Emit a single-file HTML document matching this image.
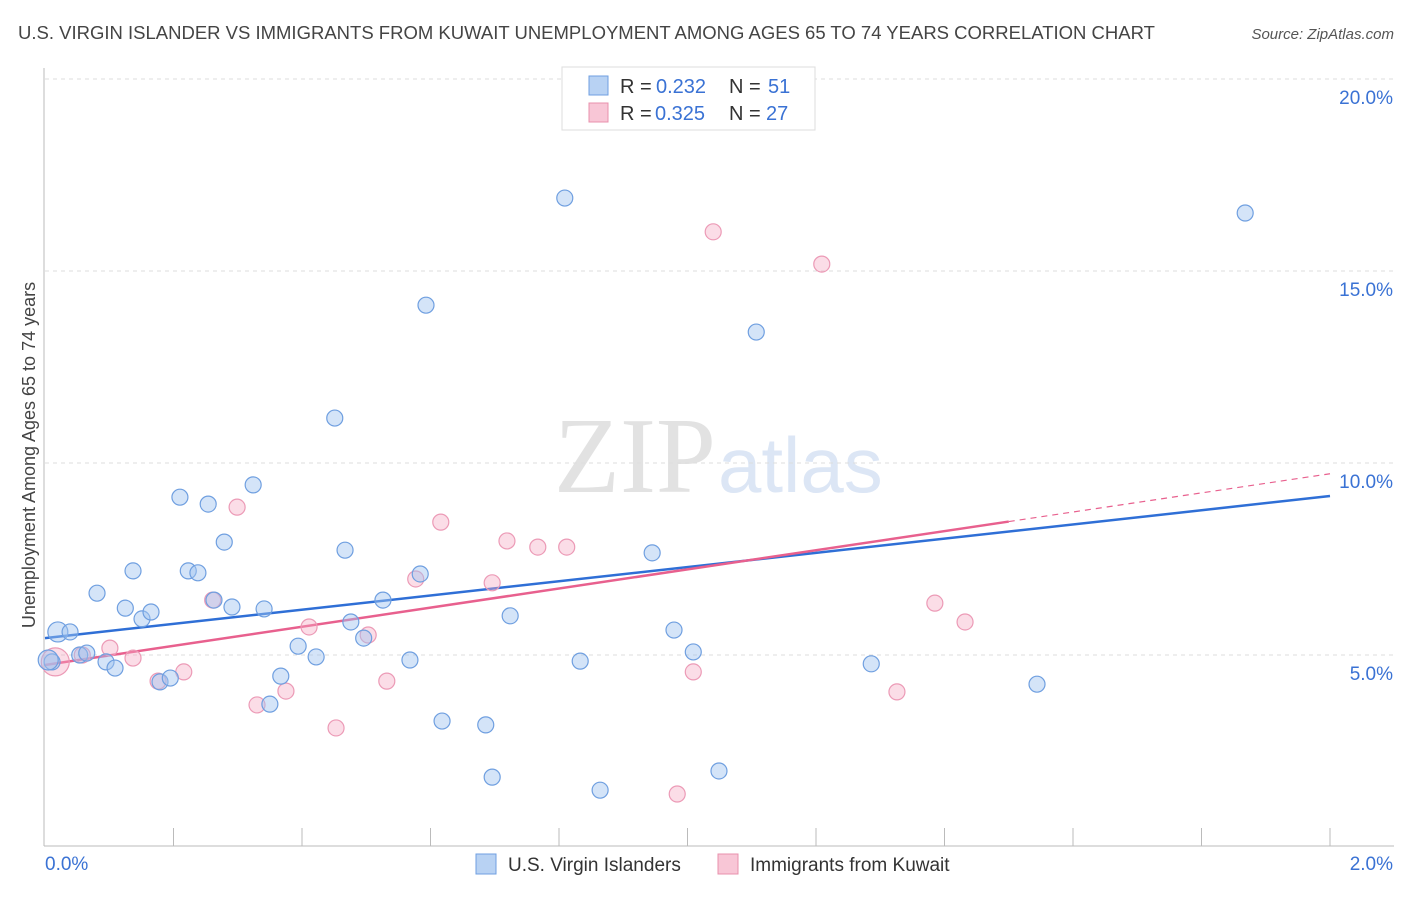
<!DOCTYPE html>
<html><head><meta charset="utf-8"><style>
body{margin:0;background:#fff;font-family:"Liberation Sans",sans-serif;}
</style></head><body>
<svg width="1406" height="892" xmlns="http://www.w3.org/2000/svg">
<text x="18" y="39" font-size="18.5" fill="#444">U.S. VIRGIN ISLANDER VS IMMIGRANTS FROM KUWAIT UNEMPLOYMENT AMONG AGES 65 TO 74 YEARS CORRELATION CHART</text>
<text x="1394" y="39" font-size="15" fill="#555" font-style="italic" text-anchor="end">Source: ZipAtlas.com</text>
<text x="716" y="492" font-size="108" fill="#e2e2e2" text-anchor="end" font-family="Liberation Serif">ZIP</text>
<text x="718" y="492" font-size="78" fill="#dce6f5">atlas</text>
<g id="grid"></g><g id="axes"></g><g id="lines"></g><g id="pts"></g>
<text x="35" y="455" font-size="18" fill="#444" transform="rotate(-90 35 455)" text-anchor="middle">Unemployment Among Ages 65 to 74 years</text>
<g>
<rect x="562" y="67" width="253" height="63" fill="#fff" stroke="#ddd"/>
<rect x="589" y="76" width="19" height="19" fill="#b8d2f3" stroke="#6f9fe0"/>
<text x="620" y="93" font-size="20" fill="#333">R =</text>
<text x="656" y="93" font-size="20" fill="#3a72d4">0.232</text>
<text x="729" y="93" font-size="20" fill="#333">N =</text>
<text x="768" y="93" font-size="20" fill="#3a72d4">51</text>
<rect x="589" y="103" width="19" height="19" fill="#f8c6d6" stroke="#e890ac"/>
<text x="620" y="120" font-size="20" fill="#333">R =</text>
<text x="655" y="120" font-size="20" fill="#3a72d4">0.325</text>
<text x="729" y="120" font-size="20" fill="#333">N =</text>
<text x="766" y="120" font-size="20" fill="#3a72d4">27</text>
</g>
<g>
<rect x="476" y="854" width="20" height="20" fill="#b8d2f3" stroke="#6f9fe0"/>
<text x="508" y="871" font-size="19" fill="#333">U.S. Virgin Islanders</text>
<rect x="718" y="854" width="20" height="20" fill="#f8c6d6" stroke="#e890ac"/>
<text x="750" y="871" font-size="19" fill="#333">Immigrants from Kuwait</text>
</g>
</svg>
<script>
const blueX=[0.011,0.020,0.039,0.054,0.065,0.081,0.095,0.109,0.125,0.137,0.151,0.165,0.179,0.195,0.210,0.223,0.238,0.254,0.263,0.279,0.291,0.324,0.341,0.350,0.367,0.394,0.422,0.451,0.467,0.476,0.496,0.526,0.568,0.584,0.593,0.618,0.686,0.696,0.724,0.809,0.833,0.864,0.945,0.979,1.009,1.049,1.107,1.286,1.544,1.868,0.005];
const blueY=[4.82,5.60,5.60,5.00,5.05,6.61,4.82,4.66,6.22,7.19,5.94,6.12,4.30,4.40,9.11,7.19,7.14,8.93,6.43,7.94,6.25,9.43,6.20,3.72,4.45,5.23,4.95,11.17,7.73,5.86,5.44,6.43,4.87,7.11,14.11,3.28,3.18,1.82,6.02,16.90,4.84,1.48,7.66,5.65,5.08,1.98,13.41,4.77,4.24,16.51,4.87];
const pinkX=[0.016,0.058,0.101,0.137,0.176,0.216,0.261,0.299,0.330,0.375,0.411,0.453,0.503,0.532,0.577,0.616,0.696,0.719,0.767,0.812,1.009,0.984,1.040,1.209,1.326,1.385,1.432];
const pinkY=[4.82,5.00,5.18,4.92,4.32,4.56,6.43,8.85,3.70,4.06,5.73,3.10,5.52,4.32,6.98,8.46,6.88,7.97,7.81,7.81,4.56,1.38,16.02,15.18,4.04,6.35,5.86];
const yTicks=[5,10,15,20];
const yTickLabels=["5.0%","10.0%","15.0%","20.0%"];
const blueTrend=[5.44,9.14];
const pinkTrend=[4.74,9.72];
const pinkSolidEnd=1.50;
const NS="http://www.w3.org/2000/svg";
const sx=v=>45+v*642.5, sy=v=>847-v*38.4;
function mk(tag,attrs,parent){const e=document.createElementNS(NS,tag);for(const k in attrs)e.setAttribute(k,attrs[k]);document.getElementById(parent).appendChild(e);return e;}
yTicks.forEach((t,i)=>{
 const l=mk('line',{x1:45,x2:1394,y1:sy(t),y2:sy(t),stroke:'#ddd','stroke-dasharray':'4,4'},'grid');
 
 
 const tx=mk('text',{x:1393,y:sy(t)+25,'font-size':19,fill:'#3a72d4','text-anchor':'end'},'grid');
 tx.textContent=yTickLabels[i];
 
 
});
const ya=mk('line',{x1:44,x2:44,y1:68,y2:846,stroke:'#bbb'},'axes');


const xa=mk('line',{x1:44,x2:1394,y1:846,y2:846,stroke:'#bbb'},'axes');


for(let i=1;i<=10;i++){const t=mk('line',{x1:sx(i*0.2),x2:sx(i*0.2),y1:828,y2:846,stroke:'#bbb'},'axes');
 
 }
const xl0=mk('text',{x:45,y:870,'font-size':19,fill:'#3a72d4'},'axes');xl0.textContent='0.0%';


const xl1=mk('text',{x:1393,y:870,'font-size':19,fill:'#3a72d4','text-anchor':'end'},'axes');xl1.textContent='2.0%';


const ps=(pinkTrend[1]-pinkTrend[0])/2;
const bl=mk('line',{x1:sx(0),y1:sy(blueTrend[0]),x2:sx(2),y2:sy(blueTrend[1]),stroke:'#2f6fd6','stroke-width':2.5},'lines');


const pl=mk('line',{x1:sx(0),y1:sy(pinkTrend[0]),x2:sx(pinkSolidEnd),y2:sy(pinkTrend[0]+ps*pinkSolidEnd),stroke:'#e8608e','stroke-width':2.5},'lines');


const pd=mk('line',{x1:sx(pinkSolidEnd),y1:sy(pinkTrend[0]+ps*pinkSolidEnd),x2:sx(2),y2:sy(pinkTrend[1]),stroke:'#e8608e','stroke-width':1.2,'stroke-dasharray':'6,5'},'lines');


pinkX.forEach((x,i)=>{const c=mk('circle',{cx:sx(x),cy:sy(pinkY[i]),r:i===0?14:8,fill:'rgba(245,170,195,0.4)',stroke:'#ec9ab6','stroke-width':1.2},'pts');
 
 });
blueX.forEach((x,i)=>{const c=mk('circle',{cx:sx(x),cy:sy(blueY[i]),r:(i===50||i===1)?10:8,fill:'rgba(160,195,240,0.45)',stroke:'#6f9fe0','stroke-width':1.2},'pts');
 
 });
</script>
</body></html>
